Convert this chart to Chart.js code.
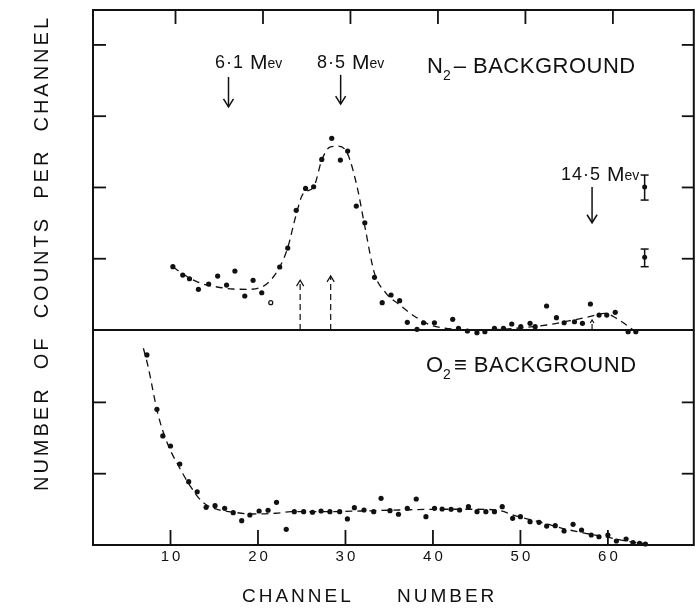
<!DOCTYPE html>
<html><head><meta charset="utf-8">
<script src="https://cdn.jsdelivr.net/npm/chart.js@4"></script>
<style>html,body{margin:0;padding:0;background:#fff}canvas{display:block}</style>
</head><body>
<canvas id="c" width="699" height="608"></canvas>
<script>
// ---------- data ----------
const xTicks = [10, 20, 30, 40, 50, 60];
const yTopTicks = [1, 2, 3, 4];
const yBotTicks = [1, 2];

const n2Points = [[10.27,0.888],[11.40,0.771],[12.17,0.719],[13.19,0.571],[14.36,0.645],[15.39,0.757],[16.41,0.631],[17.36,0.827],[18.49,0.477],[19.44,0.697],[20.43,0.523],[22.48,0.884],[23.40,1.150],[24.37,1.679],[25.44,1.987],[26.36,2.010],[27.29,2.394],[28.43,2.689],[29.42,2.384],[30.25,2.510],[31.24,1.739],[32.21,1.505],[33.32,0.739],[34.20,0.383],[35.21,0.491],[36.19,0.411],[37.07,0.108],[38.18,0.010],[38.93,0.102],[40.17,0.102],[42.26,0.150],[42.92,0.024],[43.94,-0.014],[45.03,-0.038],[45.94,-0.024],[47.03,0.024],[48.06,0.024],[49.01,0.084],[50.04,0.046],[51.10,0.094],[51.68,0.046],[52.99,0.337],[54.12,0.173],[55.00,0.102],[56.18,0.116],[57.09,0.094],[58.00,0.365],[58.99,0.210],[59.87,0.210],[60.84,0.248],[62.31,-0.024],[63.19,-0.024]];
const n2OpenPoints = [[21.46,0.383]];
const n2Curve = [[10.27,0.888],[11.41,0.785],[13.30,0.663],[15.2,0.607],[17.09,0.575],[18.99,0.571],[20.5,0.607],[21.46,0.701],[22.4,0.865],[23.39,1.15],[24.3,1.589],[25.13,1.907],[26.38,2.01],[27.29,2.384],[28.28,2.571],[29.2,2.58],[30.22,2.478],[31.33,2.01],[32.22,1.449],[33.32,0.795],[34.65,0.515],[36.2,0.351],[37.97,0.187],[39.73,0.07],[41.5,0.024],[45.03,0],[49.46,0.024],[52.99,0.07],[55.66,0.13],[57.88,0.187],[59.64,0.234],[60.97,0.164],[63.18,-0.024]];

const o2Points = [[7.30,2.665],[8.45,1.903],[9.12,1.529],[10.0,1.388],[11.06,1.136],[12.08,0.888],[13.05,0.747],[14.07,0.529],[15.09,0.551],[16.19,0.515],[17.17,0.453],[18.14,0.341],[19.07,0.421],[20.13,0.477],[21.15,0.487],[22.12,0.599],[23.23,0.220],[24.15,0.467],[25.22,0.467],[26.23,0.459],[27.21,0.477],[28.22,0.467],[29.34,0.467],[30.22,0.365],[31.02,0.523],[32.12,0.491],[33.23,0.467],[34.07,0.655],[35.09,0.481],[36.06,0.431],[37.07,0.515],[38.09,0.645],[39.20,0.397],[40.18,0.515],[41.05,0.505],[42.07,0.501],[43.05,0.491],[44.06,0.537],[45.04,0.467],[46.05,0.467],[47.03,0.467],[47.92,0.537],[49.11,0.374],[50.0,0.397],[51.1,0.327],[52.13,0.318],[53.0,0.266],[53.98,0.271],[54.99,0.196],[56.02,0.290],[56.99,0.210],[58.1,0.140],[58.98,0.116],[60.0,0.140],[60.97,0.056],[62.08,0.084],[62.87,0.032],[63.62,0.024],[64.29,0.014]];
const o2Curve = [[6.9,2.759],[7.44,2.501],[8.54,1.847],[9.64,1.426],[10.97,1.098],[12.30,0.818],[13.62,0.607],[14.95,0.515],[17.61,0.453],[19.38,0.435],[22.04,0.445],[23.80,0.467],[27.35,0.467],[31.77,0.477],[36.2,0.491],[40.62,0.501],[45.04,0.501],[47.7,0.481],[49.46,0.407],[52.13,0.327],[54.78,0.234],[57.44,0.164],[59.64,0.116],[61.85,0.06],[64.51,0.014]];

// error bars: [channel, centre, low, high]
const errorBars = [[64.2,2.005,1.823,2.174],[64.2,1.02,0.888,1.136]];
// energy markers (down arrows): channel, arrow top, arrow tip (top-panel units)
const energyLabels = ['6·1 Mev', '8·5 Mev', '14·5 Mev'];
const energyChannels = [16.63, 29.45, 58.19];
const energyArrowTop = [3.55, 3.58, 2.005];
const energyArrowTip = [3.13, 3.17, 1.505];
// dashed up arrows: channel, height
const upArrowChannels = [24.82, 28.31, 58.19];
const upArrowHeights = [0.70, 0.76, 0.14];

const xLabel = 'CHANNEL NUMBER';
const yLabel = 'NUMBER OF COUNTS PER CHANNEL';

const pts = a => a.map(([x, y]) => ({x, y}));
const INK = '#111';
const FONT = '"Liberation Sans", Arial, sans-serif';

const framePlugin = {
  id: 'frame',
  afterDraw(chart) {
    const {ctx, chartArea: a, scales: {x, yTop, yBot}} = chart;
    const line = (x1, y1, x2, y2) => { ctx.beginPath(); ctx.moveTo(x1, y1); ctx.lineTo(x2, y2); ctx.stroke(); };
    ctx.save();
    ctx.strokeStyle = INK; ctx.fillStyle = INK; ctx.lineCap = 'butt';
    ctx.lineWidth = 2;
    ctx.strokeRect(a.left, a.top, a.right - a.left, a.bottom - a.top);
    const yd = yTop.getPixelForValue(0);
    line(a.left, yd, a.right, yd);
    ctx.lineWidth = 1.8;
    xTicks.forEach(v => {
      const px = x.getPixelForValue(v);
      line(px + 5, a.top, px + 5, a.top + 14);
      line(px, a.bottom, px, a.bottom - 15);
    });
    yTopTicks.forEach(v => {
      const py = yTop.getPixelForValue(v);
      line(a.left, py, a.left + 13, py);
      line(a.right, py, a.right - 12, py);
    });
    yBotTicks.forEach(v => {
      const py = yBot.getPixelForValue(v);
      line(a.left, py, a.left + 13, py);
      line(a.right, py, a.right - 12, py);
    });

    // error bars
    ctx.lineWidth = 1.5;
    errorBars.forEach(([c, m, lo, hi]) => {
      const px = x.getPixelForValue(c);
      const pl = yTop.getPixelForValue(lo), ph = yTop.getPixelForValue(hi), pm = yTop.getPixelForValue(m);
      line(px, pl, px, ph);
      line(px - 4, pl, px + 4, pl);
      line(px - 4, ph, px + 4, ph);
      ctx.beginPath(); ctx.arc(px, pm, 2.5, 0, Math.PI * 2); ctx.fill();
    });

    // energy arrows (down)
    ctx.lineWidth = 1.5;
    energyChannels.forEach((c, i) => {
      const px = x.getPixelForValue(c);
      const p0 = yTop.getPixelForValue(energyArrowTop[i]);
      const p1 = yTop.getPixelForValue(energyArrowTip[i]);
      line(px, p0, px, p1);
      ctx.beginPath(); ctx.moveTo(px - 5, p1 - 8); ctx.lineTo(px, p1); ctx.lineTo(px + 5, p1 - 8); ctx.stroke();
    });

    // dashed up arrows
    ctx.lineWidth = 1.2;
    upArrowChannels.forEach((c, i) => {
      const px = x.getPixelForValue(c);
      const p0 = yTop.getPixelForValue(0);
      const p1 = yTop.getPixelForValue(upArrowHeights[i]);
      ctx.setLineDash([6, 4]);
      line(px, p0, px, p1);
      ctx.setLineDash([]);
      const h = i < 2 ? 6 : 3;
      ctx.beginPath(); ctx.moveTo(px - h * 0.6, p1 + h); ctx.lineTo(px, p1); ctx.lineTo(px + h * 0.6, p1 + h); ctx.stroke();
    });

    // texts
    ctx.textBaseline = 'middle';
    ctx.textAlign = 'left';
    const energyTextPos = [[215, 63], [317, 63], [561, 175]];
    energyLabels.forEach((t, i) => {
      const [tx, ty] = energyTextPos[i];
      const parts = t.split(' ');
      ctx.font = '18px ' + FONT;
      ctx.letterSpacing = '1px';
      ctx.fillText(parts[0], tx, ty);
      let w = ctx.measureText(parts[0]).width + 6;
      ctx.font = '21px ' + FONT;
      ctx.letterSpacing = '0px';
      ctx.fillText('M', tx + w, ty);
      w += ctx.measureText('M').width;
      ctx.font = '14px ' + FONT;
      ctx.fillText('ev', tx + w, ty + 1);
    });

    const sub = (main, s, rest, tx, ty) => {
      ctx.font = '22px ' + FONT;
      ctx.letterSpacing = '0px';
      ctx.fillText(main, tx, ty);
      let w = ctx.measureText(main).width;
      ctx.font = '14px ' + FONT;
      ctx.fillText(s, tx + w, ty + 9);
      w += ctx.measureText(s).width + 3;
      ctx.font = '22px ' + FONT;
      ctx.letterSpacing = '0.5px';
      ctx.fillText(rest, tx + w, ty);
    };
    sub('N', '2', '– BACKGROUND', 427, 67);
    sub('O', '2', '≡ BACKGROUND', 426, 366);

    // x tick labels
    ctx.textAlign = 'center';
    ctx.font = '15px ' + FONT;
    ctx.letterSpacing = '3px';
    xTicks.forEach(v => {
      ctx.fillText(String(v), x.getPixelForValue(v) + 1.5, 557);
    });

    // axis titles
    ctx.font = '19px ' + FONT;
    ctx.letterSpacing = '3px';
    ctx.textAlign = 'left';
    const [w1, w2] = xLabel.split(' ');
    ctx.fillText(w1, 242, 597);
    ctx.fillText(w2, 397, 597);

    ctx.save();
    ctx.translate(42, 253);
    ctx.rotate(-Math.PI / 2);
    ctx.textAlign = 'center';
    ctx.font = '20px ' + FONT;
    ctx.letterSpacing = '3px';
    ctx.fillText(yLabel.split(' ').join('  '), 0, 0);
    ctx.restore();

    ctx.restore();
  }
};

new Chart(document.getElementById('c'), {
  type: 'scatter',
  data: {
    datasets: [
      {data: pts(n2Curve), yAxisID: 'yTop', showLine: true, pointRadius: 0, borderColor: INK, borderWidth: 1.3, borderDash: [7, 5], cubicInterpolationMode: 'monotone', clip: false},
      {data: pts(n2Points), yAxisID: 'yTop', pointRadius: 2.6, pointBackgroundColor: INK, pointBorderWidth: 0, clip: false},
      {data: pts(n2OpenPoints), yAxisID: 'yTop', pointRadius: 2, pointBackgroundColor: '#fff', pointBorderColor: INK, pointBorderWidth: 1.2, clip: false},
      {data: pts(o2Curve), yAxisID: 'yBot', showLine: true, pointRadius: 0, borderColor: INK, borderWidth: 1.3, borderDash: [7, 5], cubicInterpolationMode: 'monotone', clip: false},
      {data: pts(o2Points), yAxisID: 'yBot', pointRadius: 2.6, pointBackgroundColor: INK, pointBorderWidth: 0, clip: false}
    ]
  },
  options: {
    responsive: false,
    animation: false,
    events: [],
    layout: {padding: {left: 93, right: 2, top: 10, bottom: 63}},
    scales: {
      x: {type: 'linear', min: 1.14, max: 69.82, display: false},
      yBot: {type: 'linear', position: 'left', min: 0, max: 3.015, stack: 'panels', stackWeight: 215, display: false},
      yTop: {type: 'linear', position: 'left', min: 0, max: 4.49, stack: 'panels', stackWeight: 320, display: false}
    },
    plugins: {legend: {display: false}, tooltip: {enabled: false}}
  },
  plugins: [framePlugin]
});
</script>
</body></html>
